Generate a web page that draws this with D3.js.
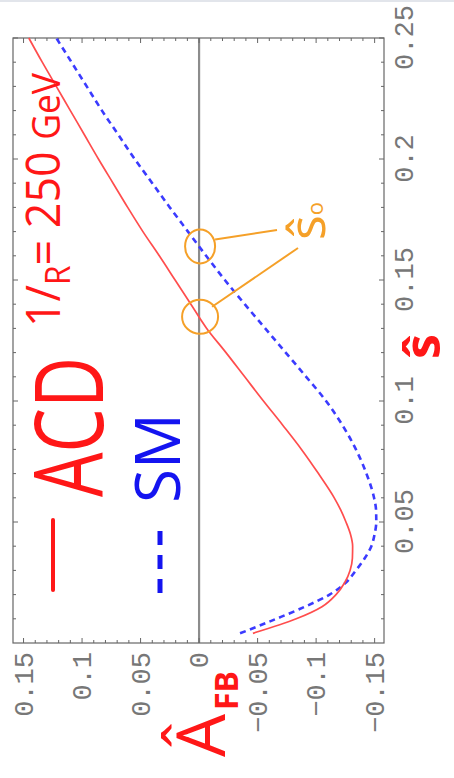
<!DOCTYPE html>
<html>
<head>
<meta charset="utf-8">
<script src="https://cdnjs.cloudflare.com/ajax/libs/d3/7.8.5/d3.min.js"></script>
<style>
  html, body { margin: 0; padding: 0; background: #fff; }
  svg { display: block; }
</style>
</head>
<body>
<script>
// Forward-backward asymmetry versus normalised dilepton mass squared
const sHat = [0.004, 0.01, 0.015, 0.02, 0.025, 0.03, 0.035, 0.04, 0.045, 0.05,
              0.055, 0.06, 0.07, 0.08, 0.09, 0.10, 0.11, 0.12, 0.13, 0.14,
              0.15, 0.16, 0.17, 0.18, 0.19, 0.20, 0.21, 0.22, 0.23, 0.24, 0.25];

// ACD model, 1/R = 250 GeV (solid red)
const afbACD = [-0.046, -0.083, -0.105, -0.117, -0.1245, -0.129, -0.131, -0.1312, -0.1293, -0.1255,
                -0.1210, -0.1155, -0.1020, -0.0875, -0.0715, -0.0550, -0.0390, -0.0230, -0.0065, 0.0070,
                0.0205, 0.0340, 0.0480, 0.0610, 0.0735, 0.0860, 0.0980, 0.1100, 0.1220, 0.1340, 0.1455];

// Standard Model (dashed blue)
const afbSM = [-0.035, -0.066, -0.0905, -0.1115, -0.1255, -0.134, -0.1415, -0.1472, -0.150, -0.1514,
               -0.1512, -0.1495, -0.1430, -0.1340, -0.1225, -0.1085, -0.0915, -0.0740, -0.0565, -0.0390,
               -0.0220, -0.0060, 0.0095, 0.0250, 0.0400, 0.0550, 0.0690, 0.0830, 0.0960, 0.1090, 0.1220];

const sTicks = [0.05, 0.1, 0.15, 0.2, 0.25];
const sTickLabels = ["0.05", "0.1", "0.15", "0.2", "0.25"];
const aTicks = [-0.15, -0.1, -0.05, 0, 0.05, 0.1, 0.15];
const aTickLabels = ["\u22120.15", "\u22120.1", "\u22120.05", "0", "0.05", "0.1", "0.15"];

const W = 605, H = 371;   // plot frame, drawn unrotated then turned a quarter turn
const svg = d3.select("body").append("svg").attr("width", 454).attr("height", 778);
svg.append("rect").attr("width", 454).attr("height", 778).attr("fill", "#fff");
svg.append("rect").attr("width", 454).attr("height", 2).attr("fill", "#e2e5eb");

const g = svg.append("g").attr("transform", "translate(13,643) rotate(-90)");

const x = d3.scaleLinear().domain([0, 0.25]).range([0, W]);
const y = d3.scaleLinear().domain([-0.158, 0.159]).range([H, 0]);

// zero line
g.append("line")
  .attr("x1", 0).attr("x2", W).attr("y1", y(0)).attr("y2", y(0))
  .attr("stroke", "#8c8c8c").attr("stroke-width", 2.2);

// frame
g.append("rect").attr("width", W).attr("height", H)
  .attr("fill", "none").attr("stroke", "#666").attr("stroke-width", 1.2);

// inward ticks on all four sides
const sMinor = d3.range(1, 25).filter(i => i % 5 !== 0).map(i => i / 100);
const aMinor = d3.range(-15, 16).filter(i => i % 5 !== 0).map(i => i / 100);
const tk = g.append("g").attr("stroke", "#666").attr("stroke-width", 1);
function sTick(v, len) {
  tk.append("line").attr("x1", x(v)).attr("x2", x(v)).attr("y1", H).attr("y2", H - len);
  tk.append("line").attr("x1", x(v)).attr("x2", x(v)).attr("y1", 0).attr("y2", len);
}
function aTick(v, len) {
  tk.append("line").attr("y1", y(v)).attr("y2", y(v)).attr("x1", 0).attr("x2", len);
  tk.append("line").attr("y1", y(v)).attr("y2", y(v)).attr("x1", W).attr("x2", W - len);
}
sTicks.forEach(v => sTick(v, 5));
sMinor.forEach(v => sTick(v, 3));
aTicks.forEach(v => aTick(v, 5));
aMinor.forEach(v => aTick(v, 3));

// tick labels
const labelFont = (sel) => sel.selectAll("text")
  .attr("font-family", "'Liberation Mono', 'DejaVu Sans Mono', monospace")
  .attr("font-size", 27).attr("fill", "#777");

const xAxis = g.append("g").attr("transform", `translate(0,${H})`)
  .call(d3.axisBottom(x).tickValues(sTicks).tickSize(0).tickPadding(10)
    .tickFormat((d, i) => sTickLabels[i]));
xAxis.select(".domain").remove();
labelFont(xAxis);

const yAxis = g.append("g")
  .call(d3.axisLeft(y).tickValues(aTicks).tickSize(0).tickPadding(9)
    .tickFormat((d, i) => aTickLabels[i]));
yAxis.select(".domain").remove();
labelFont(yAxis);

// curves
const line = (vals) => d3.line()
  .x((d, i) => x(sHat[i])).y(d => y(d))
  .curve(d3.curveMonotoneX)(vals);

g.append("path").attr("d", line(afbSM))
  .attr("fill", "none").attr("stroke", "#3b3bff").attr("stroke-width", 2.6)
  .attr("stroke-dasharray", "6,4.5");
g.append("path").attr("d", line(afbACD))
  .attr("fill", "none").attr("stroke", "#ff4d4d").attr("stroke-width", 1.7);

// zero crossings of each curve
function zeroCrossing(vals) {
  for (let i = 1; i < vals.length; i++) {
    if (vals[i - 1] < 0 && vals[i] >= 0) {
      const t = -vals[i - 1] / (vals[i] - vals[i - 1]);
      return sHat[i - 1] + t * (sHat[i] - sHat[i - 1]);
    }
  }
  return null;
}
const s0ACD = zeroCrossing(afbACD);
const s0SM = zeroCrossing(afbSM);

const RED = "#ff1717", BLUE = "#1414f0", ORANGE = "#f5a028";
const hand = "'Open Sans', 'Liberation Sans', sans-serif";

// ŝ0 markers
const ann = g.append("g").attr("fill", "none").attr("stroke", ORANGE).attr("stroke-width", 2);
ann.append("ellipse").attr("cx", x(s0ACD)).attr("cy", y(0) + 1).attr("rx", 17).attr("ry", 18);
ann.append("ellipse").attr("cx", x(s0SM)).attr("cy", y(0) + 1).attr("rx", 17).attr("ry", 15);
ann.append("line").attr("x1", x(s0SM) + 7).attr("y1", y(0) + 16)
  .attr("x2", 413).attr("y2", 264);
ann.append("line").attr("x1", x(s0ACD) + 10).attr("y1", y(0) + 13)
  .attr("x2", 395).attr("y2", 285);

g.append("text").attr("x", 403).attr("y", 312)
  .attr("font-family", hand).attr("font-size", 52).attr("fill", ORANGE)
  .text("\u015D")
  .append("tspan").attr("font-size", 22).attr("dy", -2).text("o");

// legend
g.append("line").attr("x1", 53).attr("x2", 123).attr("y1", 40).attr("y2", 40)
  .attr("stroke", RED).attr("stroke-width", 4).attr("stroke-linecap", "round");
g.append("text").attr("x", 146).attr("y", 90)
  .attr("font-family", hand).attr("font-size", 96).attr("fill", RED)
  .attr("textLength", 140).attr("lengthAdjust", "spacingAndGlyphs")
  .text("ACD");

g.append("line").attr("x1", 50).attr("x2", 116).attr("y1", 147).attr("y2", 147)
  .attr("stroke", BLUE).attr("stroke-width", 5).attr("stroke-dasharray", "14,10");
g.append("text").attr("x", 140).attr("y", 167)
  .attr("font-family", hand).attr("font-size", 62).attr("fill", BLUE)
  .attr("textLength", 90).attr("lengthAdjust", "spacingAndGlyphs")
  .text("SM");

const rt = g.append("text").attr("x", 316).attr("y", 47)
  .attr("font-family", hand).attr("font-size", 48).attr("fill", RED)
  .attr("textLength", 254).attr("lengthAdjust", "spacingAndGlyphs");
rt.append("tspan").text("1/");
rt.append("tspan").attr("font-size", 34).attr("dy", 10).text("R");
rt.append("tspan").attr("dy", -10).text("= 250 ");
rt.append("tspan").attr("font-size", 38).text("GeV");

// axis titles
g.append("text").attr("x", 284).attr("y", 427)
  .attr("font-family", hand).attr("font-weight", "bold").attr("font-size", 50).attr("fill", RED)
  .text("\u015D");

const at = g.append("text").attr("x", -114).attr("y", 212)
  .attr("font-family", hand).attr("font-size", 68).attr("fill", RED);
at.append("tspan").text("\u00C2");
at.append("tspan").attr("font-size", 32).attr("font-weight", "bold").attr("dy", 13).attr("dx", 4).text("FB");
</script>
</body>
</html>
